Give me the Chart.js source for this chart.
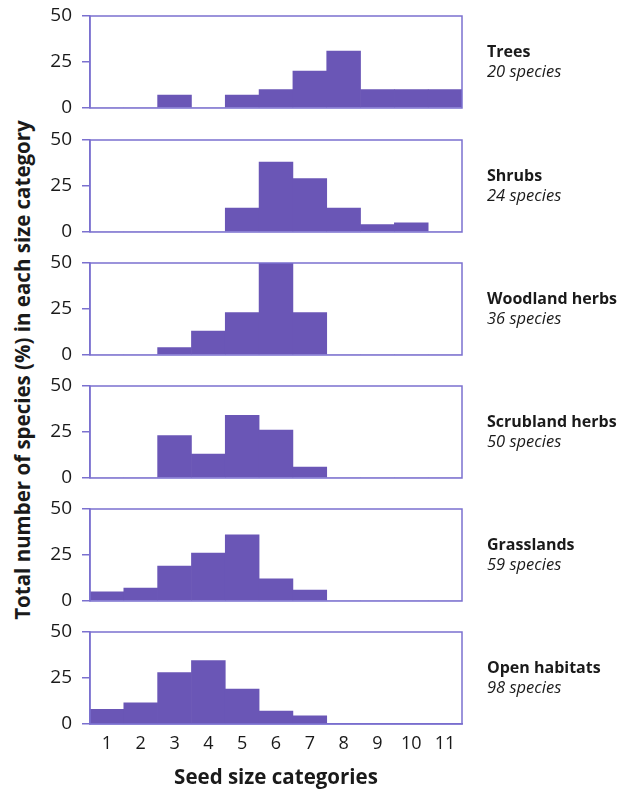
<!DOCTYPE html>
<html>
<head>
<meta charset="utf-8">
<script src="https://cdn.jsdelivr.net/npm/chart.js@4/dist/chart.umd.min.js"></script>
<style>
  body { margin: 0; background: #fff; }
  #wrap { position: relative; width: 636px; height: 794px; overflow: hidden; }
  #wrap canvas { position: absolute; left: 0; }
  #ytitle {
    position: absolute; left: 22px; top: 370px;
    transform: translate(-50%, -50%) rotate(-90deg);
    white-space: nowrap; font: bold 20.5px 'Open Sans', sans-serif; color: #1a1a1a;
  }
</style>
</head>
<body>
<div id="wrap">
  <div id="ytitle">Total number of species (%) in each size category</div>
</div>
<script>
'use strict';

// data
const categories = ['1', '2', '3', '4', '5', '6', '7', '8', '9', '10', '11'];
const yTicks = [0, 25, 50];

const trees          = [0, 0, 7, 0, 7, 10, 20, 31, 10, 10, 10];
const shrubs         = [0, 0, 0, 0, 13, 38, 29, 13, 4, 5, 0];
const woodlandHerbs  = [0, 0, 4, 13, 23, 50, 23, 0, 0, 0, 0];
const scrublandHerbs = [0, 0, 23, 13, 34, 26, 6, 0, 0, 0, 0];
const grasslands     = [5, 7, 19, 26, 36, 12, 6, 0, 0, 0, 0];
const openHabitats   = [8, 11.5, 28, 34.5, 19, 7, 4.5, 0, 0, 0, 0];

const habitatNames = ['Trees', 'Shrubs', 'Woodland herbs', 'Scrubland herbs', 'Grasslands', 'Open habitats'];
const speciesCounts = [20, 24, 36, 50, 59, 98];
const series = [trees, shrubs, woodlandHerbs, scrublandHerbs, grasslands, openHabitats];

//----------------

const BAR = '#6a56b6';
const FRAME = '#7b70cf';
const FONT = "'Open Sans', sans-serif";

Chart.defaults.font.family = FONT;
Chart.defaults.color = '#1a1a1a';

const panelTops = [16, 140, 263, 386, 509, 632]; // chart area tops
const PANEL_H = 92;
const PAD = 12;

// box round the plot area
const framePlugin = {
    id: 'frame',
    afterDatasetsDraw(chart) {
        const a = chart.chartArea;
        const ctx = chart.ctx;
        ctx.save();
        ctx.strokeStyle = FRAME;
        ctx.lineWidth = 1.5;
        ctx.strokeRect(a.left, a.top, a.right - a.left, a.bottom - a.top);
        ctx.restore();
    }
};

// habitat name + species count on the right
const sideLabel = {
    id: 'sideLabel',
    afterDraw(chart, args, opts) {
        const a = chart.chartArea;
        const mid = (a.top + a.bottom) / 2;
        const ctx = chart.ctx;
        ctx.save();
        ctx.fillStyle = '#1a1a1a';
        ctx.textBaseline = 'middle';
        ctx.textAlign = 'left';
        ctx.font = 'bold 16px ' + FONT;
        ctx.fillText(opts.name, 487, mid - 10);
        ctx.font = 'italic 16.5px ' + FONT;
        ctx.fillText(opts.count + ' species', 487, mid + 10);
        ctx.restore();
    }
};

const wrap = document.getElementById('wrap');

series.forEach((values, i) => {
    const last = i === series.length - 1;
    const canvas = document.createElement('canvas');
    const h = last ? 794 - (panelTops[i] - PAD) : PANEL_H + PAD * 2;
    canvas.width = 636;
    canvas.height = h;
    canvas.style.top = (panelTops[i] - PAD) + 'px';
    wrap.appendChild(canvas);

    new Chart(canvas, {
        type: 'bar',
        data: {
            labels: categories,
            datasets: [{
                data: values,
                backgroundColor: BAR,
                borderWidth: 0,
                categoryPercentage: 1,
                barPercentage: 1
            }]
        },
        options: {
            responsive: false,
            animation: false,
            layout: { padding: { left: 40, right: 174, top: PAD, bottom: last ? 0 : PAD } },
            plugins: {
                legend: { display: false },
                tooltip: { enabled: false },
                sideLabel: { name: habitatNames[i], count: speciesCounts[i] }
            },
            scales: {
                x: {
                    display: last,
                    grid: { display: false },
                    border: { color: FRAME, width: 1.5 },
                    ticks: { font: { size: 18 }, padding: 1, maxRotation: 0, autoSkip: false },
                    title: {
                        display: true,
                        text: 'Seed size categories',
                        font: { size: 20.5, weight: 'bold' },
                        padding: { top: 0, bottom: 4 }
                    },
                    afterFit(scale) {
                        scale.paddingLeft = 0;
                        scale.paddingRight = 0;
                        if (last) scale.height = 794 - (panelTops[i] - PAD) - PAD - PANEL_H;
                    }
                },
                y: {
                    min: 0,
                    max: 50,
                    afterBuildTicks(scale) { scale.ticks = yTicks.map(v => ({ value: v })); },
                    afterFit(scale) {
                        scale.width = 50;
                        scale.paddingTop = 0;
                        scale.paddingBottom = 0;
                    },
                    grid: { drawOnChartArea: false, drawTicks: true, tickLength: 8, color: FRAME, lineWidth: 1.5 },
                    border: { color: FRAME, width: 1.5 },
                    ticks: { font: { size: 19 }, padding: 10 }
                }
            }
        },
        plugins: [framePlugin, sideLabel]
    });
});
</script>
</body>
</html>
